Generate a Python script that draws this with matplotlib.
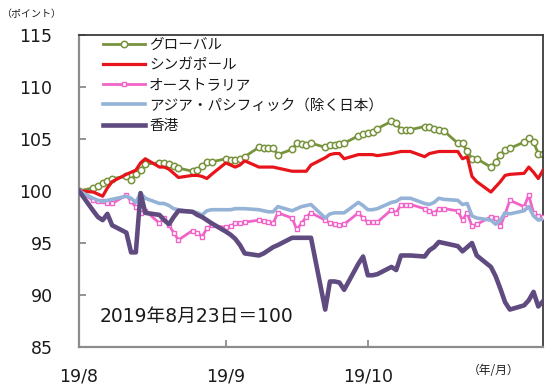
import matplotlib
matplotlib.use("Agg")
import matplotlib.pyplot as plt
import pandas as pd
from matplotlib.font_manager import FontProperties

plt.rcParams['font.family'] = ['DejaVu Sans', 'Noto Sans CJK JP']

# ---- data (index, 2019/8/23 = 100), business days ----
dates = pd.bdate_range('2019-08-23', '2019-11-29')

global_idx = [100.0, 100.3, 100.5, 100.8, 101.0, 101.2, 101.4, 101.1, 101.6, 102.0,
              102.6, 102.7, 102.7, 102.6, 102.4, 102.2, 101.9, 102.0, 102.4, 102.8,
              102.8, 103.1, 103.0, 103.0, 103.1, 103.3, 104.2, 104.1, 104.1, 104.1,
              103.5, 104.0, 104.6, 104.5, 104.4, 104.6, 104.2, 104.4, 104.4, 104.5,
              104.6, 105.3, 105.5, 105.6, 105.7, 106.0, 106.7, 106.5, 105.9, 105.9,
              105.9, 106.2, 106.2, 106.0, 105.9, 105.8, 104.6, 104.6, 103.8, 103.1,
              103.1, 102.3, 102.8, 103.5, 103.9, 104.1, 104.7, 105.1, 104.7, 103.6,
              103.6]

singapore = [100.0, 99.9, 99.7, 99.5, 100.3, 100.9, 101.6, 101.8, 102.0, 102.7,
             103.1, 102.3, 102.3, 102.1, 101.7, 101.3, 101.5, 101.5, 101.4, 101.2,
             101.6, 102.7, 102.5, 102.3, 102.5, 102.9, 102.3, 102.3, 102.3, 102.3,
             102.2, 101.9, 101.9, 101.9, 101.9, 102.5, 103.2, 103.5, 103.6, 103.6,
             103.1, 103.5, 103.5, 103.5, 103.5, 103.4, 103.6, 103.7, 103.8, 103.8,
             103.8, 103.3, 103.6, 103.7, 103.8, 103.8, 103.8, 103.1, 103.3, 101.4,
             100.9, 99.9, 100.4, 100.9, 101.5, 101.6, 101.7, 102.3, 101.8, 101.2,
             102.0]

australia = [100.0, 99.1, 99.0, 99.0, 98.8, 98.8, 99.6, 99.0, 98.5, 97.9,
             98.1, 96.9, 97.4, 96.7, 96.0, 95.3, 96.2, 96.0, 95.6, 96.4,
             96.7, 96.5, 96.6, 96.9, 96.9, 97.0, 97.2, 97.1, 97.0, 96.9,
             97.9, 97.4, 96.3, 96.9, 97.5, 97.9, 97.2, 96.9, 96.8, 96.7,
             96.8, 97.9, 97.4, 97.0, 97.0, 97.0, 98.2, 97.9, 98.7, 98.7,
             98.7, 98.3, 98.1, 97.9, 98.3, 98.3, 98.1, 97.2, 97.9, 96.6,
             96.8, 97.5, 97.4, 96.6, 97.8, 99.1, 98.5, 99.6, 97.9, 97.6,
             97.5]

asia_pac = [100.0, 99.3, 99.1, 99.0, 99.1, 99.2, 99.5, 99.3, 98.9, 99.8,
            99.3, 98.8, 98.8, 98.6, 98.3, 98.2, 98.0, 97.9, 97.7, 98.1,
            98.2, 98.2, 98.2, 98.3, 98.3, 98.3, 98.2, 98.1, 98.0, 98.0,
            98.5, 98.1, 98.3, 98.5, 98.6, 98.7, 97.4, 97.8, 97.9, 97.9,
            97.9, 98.9, 98.6, 98.2, 98.2, 98.3, 98.9, 99.0, 99.3, 99.3,
            99.3, 98.8, 98.7, 98.9, 99.3, 99.2, 99.1, 98.7, 98.8, 97.6,
            97.4, 97.2, 96.8, 97.2, 97.9, 97.8, 98.1, 98.5, 97.6, 97.2,
            97.3]

hong_kong = [100.0, 98.1, 97.5, 97.2, 97.8, 96.7, 96.0, 94.1, 94.1, 99.8,
             97.9, 97.7, 97.2, 96.8, 97.5, 98.1, 98.0, 97.7, 97.5, 97.2,
             96.9, 96.1, 95.8, 95.4, 94.8, 94.0, 93.8, 94.0, 94.3, 94.6,
             94.8, 95.5, 95.5, 95.5, 95.5, 95.5, 88.6, 91.3, 91.3, 91.2,
             90.5, 93.0, 93.7, 91.9, 91.9, 92.0, 92.7, 92.4, 93.8, 93.8,
             93.8, 93.7, 94.3, 94.6, 95.1, 95.0, 94.7, 94.2, 94.6, 95.0,
             93.8, 92.7, 91.8, 90.6, 89.3, 88.6, 89.0, 89.5, 90.3, 88.9,
             89.4]

series_names = ['グローバル', 'シンガポール', 'オーストラリア',
                'アジア・パシフィック（除く日本）', '香港']
tick_dates = ['2019-08-23', '2019-09-23', '2019-10-23']
tick_labels = ['19/8', '19/9', '19/10']
y_ticks = [85, 90, 95, 100, 105, 110, 115]

# ---- figure ----
W, H = 550, 389
fig = plt.figure(figsize=(W / 100, H / 100), dpi=100)
ax = fig.add_axes([79 / W, 1 - 347 / H, (543 - 79) / W, (347 - 35) / H])

ax.plot(dates, global_idx, color='#77933C', lw=2.0, marker='o', ms=4.6,
        mfc='white', mec='#77933C', mew=1.1, label=series_names[0], zorder=2)
ax.plot(dates, singapore, color='#E8141B', lw=2.3, label=series_names[1], zorder=3)
ax.plot(dates, australia, color='#F064C8', lw=2.0, marker='s', ms=3.2,
        mfc='white', mec='#F064C8', mew=1.0, label=series_names[2], zorder=4)
ax.plot(dates, asia_pac, color='#95B3D7', lw=2.6, label=series_names[3], zorder=5)
ax.plot(dates, hong_kong, color='#5F4B7F', lw=3.3, label=series_names[4], zorder=6)

ax.set_xlim(dates[0], dates[-1])
ax.set_ylim(85, 115)
ax.set_yticks(y_ticks)
ax.set_xticks(pd.to_datetime(tick_dates))
ax.set_xticklabels(tick_labels)

for s in ['left', 'bottom']:
    ax.spines[s].set_color('#8C8C8C')
    ax.spines[s].set_linewidth(1.6)
for s in ['top', 'right']:
    ax.spines[s].set_color('#3C3C3C')
    ax.spines[s].set_linewidth(1.3)

ax.tick_params(axis='both', direction='in', length=5, width=1.3,
               color='#8C8C8C', labelsize=12.5, labelcolor='#1A1A1A')
ax.tick_params(axis='y', pad=19)
ax.tick_params(axis='x', pad=15)

leg = ax.legend(loc='upper left', bbox_to_anchor=(0.052, 0.99), frameon=False,
                handlelength=2.9, handletextpad=0.25, labelspacing=0.42,
                borderaxespad=0, borderpad=0, numpoints=1,
                prop=FontProperties(family=['Noto Sans CJK JP', 'DejaVu Sans'], size=10.5))
for t in leg.get_texts():
    t.set_color('#1A1A1A')

ax.text((100 - 79) / 464, 1 - (316 - 35) / 312, '2019年8月23日＝100',
        transform=ax.transAxes, ha='left', va='center', fontsize=13.5,
        color='#1A1A1A', family=['DejaVu Sans', 'Noto Sans CJK JP'])

fig.text(31 / W, 1 - 14 / H, '（ポイント）', ha='center', va='center', fontsize=7.2,
         color='#1A1A1A', family=['Noto Sans CJK JP', 'DejaVu Sans'])
fig.text(494 / W, 1 - 371 / H, '（年/月）', ha='center', va='center', fontsize=8.5,
         color='#1A1A1A', family=['Noto Sans CJK JP', 'DejaVu Sans'])

fig.savefig('out.png', dpi=100)
